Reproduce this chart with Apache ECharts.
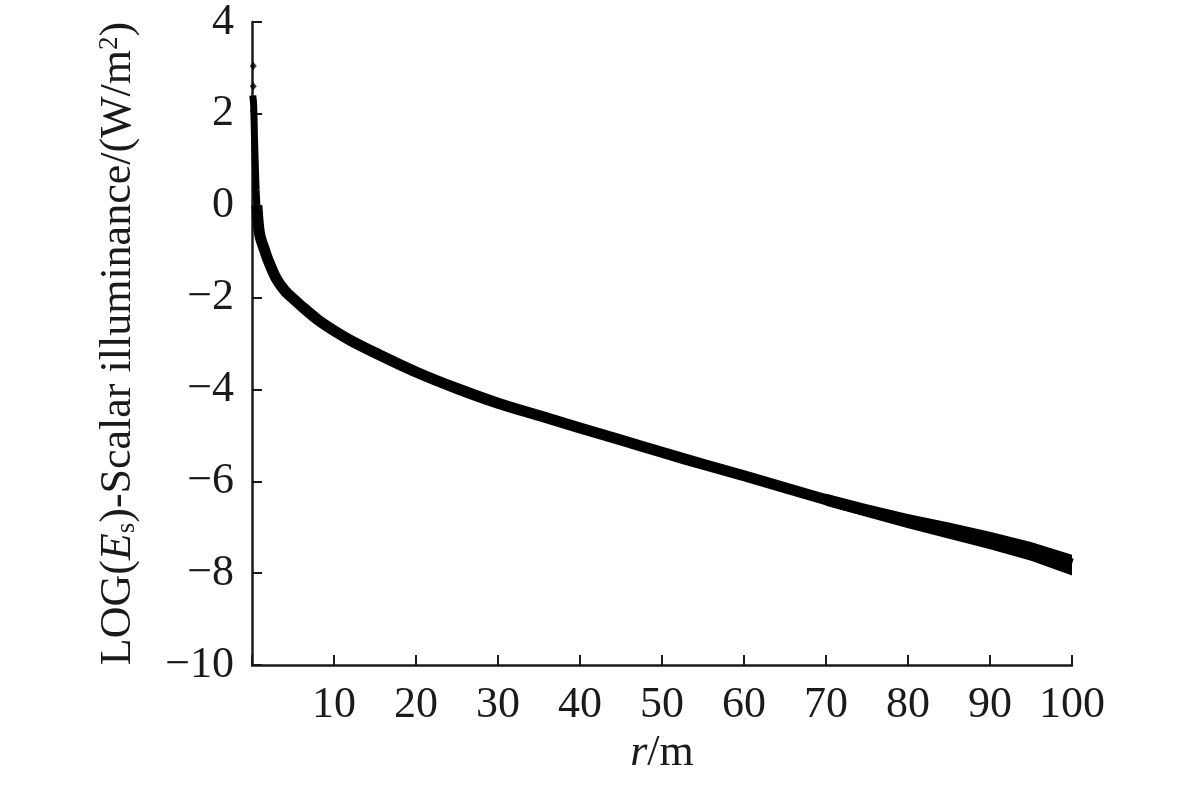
<!DOCTYPE html>
<html>
<head>
<meta charset="utf-8">
<script src="https://cdn.jsdelivr.net/npm/echarts@6/dist/echarts.min.js"></script>
<style>
  html, body { margin: 0; padding: 0; background: #fff; }
  #chart { width: 1182px; height: 788px; }
</style>
</head>
<body>
<div id="chart"></div>
<script>
// distance r (m) and LOG(Es)
var rNear = [0.1, 0.2, 0.25, 0.3, 0.4, 0.5, 0.6, 0.8];
var logNear = [2.4, 2.2, 1.9, 1.5, 0.9, 0.35, 0.0, -0.45];

var rMain = [0.6, 0.8, 1, 1.5, 2, 3, 4, 5, 6, 8, 10, 12, 15, 20, 25, 30, 35, 40,
  45, 50, 55, 60, 65, 70, 75, 80, 85, 90, 95, 100];
var logMain = [0.0, -0.45, -0.68, -0.95, -1.2, -1.6, -1.85, -2.02, -2.18, -2.48,
  -2.72, -2.93, -3.2, -3.62, -3.98, -4.3, -4.57, -4.84, -5.1, -5.37, -5.63, -5.88,
  -6.14, -6.4, -6.64, -6.86, -7.07, -7.29, -7.52, -7.8];

// scattered points at the very top of the curve
var spikes = [[0.15, 3.04], [0.15, 2.6], [0.2, 2.28], [0.15, 2.05]];

// noisy spread of the far end
var rSpread = [70, 75, 80, 85, 90, 95, 100];
var spreadHigh = [-6.27, -6.5, -6.71, -6.9, -7.1, -7.32, -7.6];
var spreadLow = [-6.53, -6.78, -7.02, -7.25, -7.48, -7.73, -8.05];

var xTicks = [0, 100, 10];
var yTicks = [-10, 4, 2];

var font = 'Liberation Serif';
var ink = '#1a1a1a';

function pairs(xs, ys) {
  return xs.map(function (x, i) { return [x, ys[i]]; });
}

var chart = echarts.init(document.getElementById('chart'));

var option = {
  backgroundColor: '#fff',
  animation: false,
  grid: { left: 252, right: 110, top: 20, bottom: 123 },
  xAxis: {
    type: 'value',
    min: xTicks[0],
    max: xTicks[1],
    interval: xTicks[2],
    name: '{i|r}{n|/m}',
    nameLocation: 'middle',
    nameGap: 66,
    nameTextStyle: {
      rich: {
        i: { fontFamily: font, fontSize: 44, fontStyle: 'italic', color: ink },
        n: { fontFamily: font, fontSize: 44, color: ink }
      }
    },
    axisLine: { onZero: false, lineStyle: { color: ink, width: 2.5 } },
    axisTick: { inside: true, length: 10, lineStyle: { color: ink, width: 2 } },
    splitLine: { show: false },
    axisLabel: {
      fontFamily: font, fontSize: 44, color: ink, margin: 18,
      formatter: function (v) { return v === 0 ? '' : String(v); }
    }
  },
  yAxis: {
    type: 'value',
    min: yTicks[0],
    max: yTicks[1],
    interval: yTicks[2],
    name: '{n|LOG(}{i|E}{sub|s}{n|)-Scalar illuminance/(W/m}{sup|2}{n|)}',
    nameLocation: 'middle',
    nameGap: 112,
    nameTextStyle: {
      rich: {
        n: { fontFamily: font, fontSize: 44, color: ink },
        i: { fontFamily: font, fontSize: 44, fontStyle: 'italic', color: ink },
        sub: { fontFamily: font, fontSize: 27, color: ink, verticalAlign: 'bottom', padding: [16, 0, 0, 0] },
        sup: { fontFamily: font, fontSize: 27, color: ink, verticalAlign: 'top', padding: [0, 0, 16, 0] }
      }
    },
    axisLine: { show: true, onZero: false, lineStyle: { color: ink, width: 2.5 } },
    axisTick: { show: true, inside: true, length: 10, lineStyle: { color: ink, width: 2 } },
    splitLine: { show: false },
    axisLabel: {
      fontFamily: font, fontSize: 44, color: ink, margin: 18,
      formatter: function (v) { return String(v).replace('-', '\u2212'); }
    }
  },
  series: [
    {
      // filled band between the upper and lower edge of the noisy tail
      type: 'custom',
      data: pairs(rSpread, spreadHigh),
      silent: true,
      renderItem: function (params, api) {
        if (params.dataIndex !== 0) return;
        var pts = [];
        for (var i = 0; i < rSpread.length; i++) {
          pts.push(api.coord([rSpread[i], spreadHigh[i]]));
        }
        for (var j = rSpread.length - 1; j >= 0; j--) {
          pts.push(api.coord([rSpread[j], spreadLow[j]]));
        }
        return { type: 'polygon', shape: { points: pts }, style: { fill: '#000' } };
      }
    },
    {
      type: 'line',
      data: pairs(rMain, logMain),
      smooth: 0.3,
      symbol: 'none',
      lineStyle: { color: '#000', width: 11, cap: 'butt', join: 'round' }
    },
    {
      type: 'line',
      data: pairs(rNear, logNear),
      symbol: 'none',
      lineStyle: { color: '#000', width: 7 }
    },
    {
      type: 'scatter',
      data: spikes,
      symbol: 'diamond',
      symbolSize: [7, 8],
      itemStyle: { color: '#000' }
    }
  ]
};

chart.setOption(option);
window.addEventListener('resize', chart.resize);
</script>
</body>
</html>
